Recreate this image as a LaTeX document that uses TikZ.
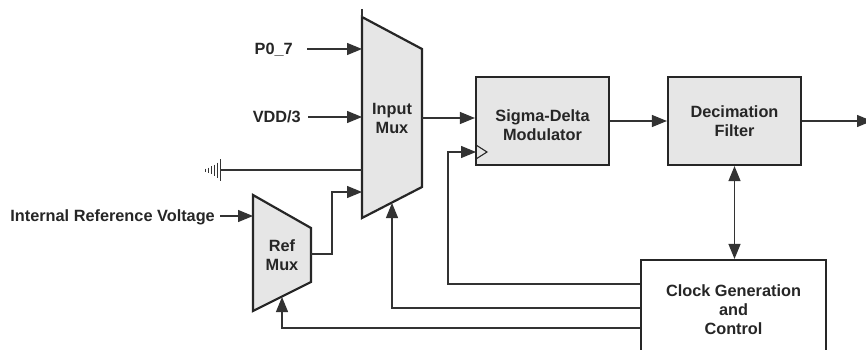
\documentclass[tikz,border=0pt]{standalone}
\usepackage{fontspec}
\setmainfont{Liberation Sans}
\usetikzlibrary{arrows.meta}
\definecolor{blockgray}{HTML}{E6E6E6}
\definecolor{linegray}{HTML}{333333}
\begin{document}
\begin{tikzpicture}[x=1pt, y=-1pt,
    every node/.style={font=\bfseries\fontsize{16.3}{19}\selectfont, text=black!85, align=center, inner sep=0pt},
    blk/.style={rectangle, draw=black!85, line width=2.2pt, fill=blockgray, minimum width=133pt, minimum height=88pt},
    muxshape/.style={draw=black!85, line width=2.2pt, fill=blockgray},
    wire/.style={draw=linegray, line width=1.2pt},
    arr/.style={wire, -{Triangle[length=15pt, width=12pt]}},
    dblarr/.style={wire, {Triangle[length=15pt, width=12pt]}-{Triangle[length=15pt, width=12pt]}}]
    \clip (0,0) rectangle (866,350);
    % multiplexers
    \draw[muxshape] (362,17) -- (422,49) -- (422,187) -- (362,218) -- cycle;
    \draw[wire] (362,9) -- (362,17);
    \node (inmux) at (392,118) {Input\\Mux};
    \draw[muxshape] (253,195) -- (311,228) -- (311,282) -- (253,311) -- cycle;
    \node (refmux) at (282,255) {Ref\\Mux};
    \coordinate (inA) at (362,49);
    \coordinate (inB) at (362,117);
    \coordinate (inC) at (362,170);
    \coordinate (inD) at (362,192);
    \coordinate (inE) at (392,203);
    \coordinate (muxout) at (422,118);
    \coordinate (refin) at (253,216);
    \coordinate (refout) at (311,254);
    \coordinate (refE) at (282,297);
    % blocks
    \node[blk, label={[yshift=-4pt]center:Sigma-Delta\\Modulator}] (sdm) at (542.5,121) {};
    \node[blk] (df) at (734.5,121) {Decimation\\Filter};
    \node[rectangle, draw=black!85, line width=2.2pt, fill=white, minimum width=185pt, minimum height=100pt] (clk) at (733.5,310) {Clock Generation\\and\\Control};
    \coordinate (clkin) at (476,152);
    \coordinate (dout) at (872,121);
    % inputs
    \node[anchor=base east] (p07) at (293,54.5) {P0\_7};
    \node[anchor=base east] (vdd) at (301,122.5) {VDD/3};
    \node[anchor=base east] (irv) at (215,221.5) {Internal Reference Voltage};
    \coordinate (gnd) at (220.5,170);
    \draw[arr] (p07.east |- inA) ++(14,0) -- (inA);
    \draw[arr] (vdd.east |- inB) ++(7,0) -- (inB);
    \draw[arr] (irv.east |- refin) ++(5,0) -- (refin);
    \draw[wire] (gnd) -- (inC);
    \foreach \dx/\h in {0/11, 3/7.5, 6/5.5, 9/4, 12/2.5, 15/1.5}
        \draw[linegray, line width=1.8pt] (220.5-\dx,170-\h) -- (220.5-\dx,170+\h);
    \draw[arr] (refout) -- ++(21,0) |- (inD);
    % data path
    \draw[arr] (muxout) -- (muxout -| sdm.west);
    \draw[arr] (sdm) -- (df);
    \draw[arr] (df) -- (dout);
    \draw[dblarr] (df.south) -- (df.south |- clk.north);
    % clock lines
    \draw[black!85, line width=1.1pt] ([yshift=7pt]clkin) -- ++(11,7) -- ++(-11,7);
    \draw[arr] ([yshift=26pt]clk.west) -| (448,152) -- (clkin);
    \draw[arr] ([yshift=2pt]clk.west) -| (inE);
    \draw[arr] ([yshift=-18pt]clk.west) -| (refE);
\end{tikzpicture}
\end{document}
